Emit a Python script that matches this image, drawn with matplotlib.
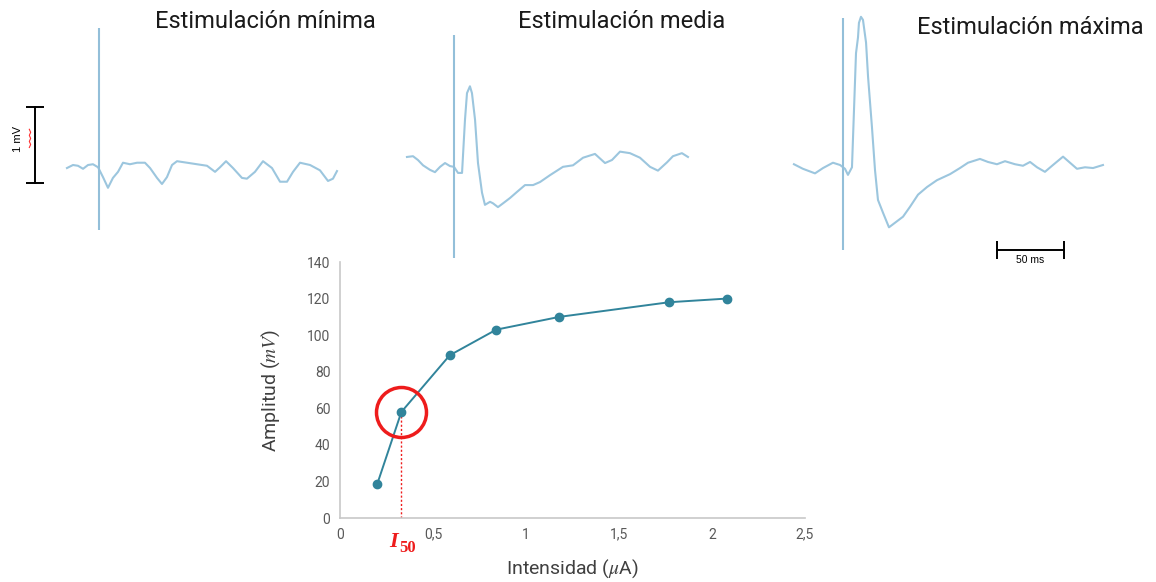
import numpy as np
import matplotlib
matplotlib.use('Agg')
import matplotlib.pyplot as plt

plt.rcParams['font.family'] = ['Roboto', 'DejaVu Sans']

# curva amplitud / intensidad
intensidad = [0.20, 0.33, 0.59, 0.84, 1.18, 1.77, 2.08]
amplitud = [18.5, 58, 89, 103, 110, 118, 120]
i50 = 0.33
a50 = 58
xticks = [0, 0.5, 1, 1.5, 2, 2.5]
xticklabels = ['0', '0,5', '1', '1,5', '2', '2,5']
yticks = [0, 20, 40, 60, 80, 100, 120, 140]

# registros (t en ms desde el estimulo, v en mV)
t_min = [-23.9, -19.4, -15.7, -11.9, -8.2, -4.5, -0.7, 3.0, 6.7, 10.4, 14.2, 17.9, 23.1, 28.4,
         34.3, 38.1, 43.3, 47.0, 50.7, 54.5, 58.2, 65.7, 73.1, 80.6, 86.6, 90.3, 94.8, 100.0,
         106.7, 110.4, 116.4, 122.4, 129.1, 135.1, 140.3, 144.8, 150.0, 157.5, 164.9, 170.9,
         174.6, 177.6]
v_min = [-0.04, 0.0, -0.01, -0.05, 0.0, 0.01, -0.03, -0.16, -0.30, -0.17, -0.09, 0.03, 0.01, 0.03,
         0.03, -0.04, -0.17, -0.25, -0.16, 0.0, 0.05, 0.03, 0.01, -0.01, -0.09, -0.03, 0.05, -0.04,
         -0.17, -0.18, -0.09, 0.05, -0.04, -0.22, -0.22, -0.09, 0.03, 0.0, -0.07, -0.21,
         -0.18, -0.08]

t_med = [-35.1, -30.6, -26.9, -23.1, -17.9, -14.2, -10.4, -6.7, -3.0, 0.0, 3.0, 6.0, 8.2, 9.7,
         11.9, 13.4, 15.7, 17.9, 20.9, 23.1, 26.9, 29.1, 32.8, 36.6, 41.8, 47.0, 53.0, 59.0,
         64.2, 71.6, 81.3, 88.8, 96.3, 105.2, 112.7, 117.9, 123.9, 131.3, 138.8, 146.3, 152.2,
         159.0, 163.4, 170.1, 174.6]
v_med = [0.04, 0.05, 0.0, -0.07, -0.13, -0.16, -0.09, -0.04, -0.08, -0.09, -0.17, -0.17, 0.53, 0.88,
         0.97, 0.88, 0.53, -0.04, -0.43, -0.59, -0.55, -0.57, -0.62, -0.57, -0.50, -0.42, -0.33, -0.33,
         -0.29, -0.20, -0.09, -0.07, 0.03, 0.08, -0.04, 0.0, 0.11, 0.09, 0.03, -0.09, -0.14,
         -0.03, 0.05, 0.09, 0.04]

t_max = [-36.6, -29.9, -20.9, -14.9, -7.5, -2.2, 1.5, 3.7, 6.7, 8.2, 9.7, 11.2, 11.9, 13.4, 14.9,
         17.2, 18.7, 21.6, 23.9, 26.1, 29.9, 34.3, 38.8, 44.8, 50.0, 56.0, 62.7, 70.1, 79.9,
         87.3, 93.3, 102.2, 108.2, 114.9, 120.9, 128.4, 134.3, 139.6, 144.8, 150.7, 156.7,
         164.2, 169.4, 174.6, 180.6, 186.6, 194.0]
v_max = [0.01, -0.05, -0.11, -0.04, 0.03, 0.0, -0.05, -0.13, -0.03, 0.72, 1.47, 1.68, 1.87, 1.95, 1.91,
         1.61, 1.16, 0.50, -0.07, -0.46, -0.63, -0.82, -0.76, -0.68, -0.55, -0.39, -0.29, -0.20, -0.12,
         -0.04, 0.03, 0.08, 0.04, 0.01, 0.05, 0.01, -0.01, 0.04, -0.03, -0.09, 0.0,
         0.11, 0.03, -0.05, -0.03, -0.04, 0.0]

# artefacto de estimulo (mV)
art_min = [-0.86, 1.80]
art_med = [-1.29, 1.64]
art_max = [-1.12, 1.93]

titulos = ['Estimulación mínima', 'Estimulación media', 'Estimulación máxima']

W, H = 1156, 582
PX_MS = 1.34   # px por ms
PX_MV = 76.0   # px por mV
c_traza = '#9cc6de'
c_curva = '#31849b'
rojo = '#ee1c1c'


def trace_axes(fig, stim_px, base_px, x0, x1):
    # ejes en px de la figura, escala comun para los tres registros
    ax = fig.add_axes([x0 / W, 0.0, (x1 - x0) / W, 1.0])
    ax.set_xlim((x0 - stim_px) / PX_MS, (x1 - stim_px) / PX_MS)
    ax.set_ylim((base_px - H) / PX_MV, base_px / PX_MV)
    ax.axis('off')
    ax.patch.set_alpha(0)
    return ax


def main():
    fig = plt.figure(figsize=(W / 100, H / 100), dpi=100)

    # curva principal
    ax = fig.add_axes([340 / W, (H - 518) / H, 465 / W, 256 / H])
    ax.plot(intensidad, amplitud, '-o', color=c_curva, lw=1.4, ms=6, zorder=3)
    ax.plot([i50], [a50], 'o', ms=36, mfc='none', mec=rojo, mew=2.5, zorder=4)
    ax.vlines(i50, 0, a50, colors=rojo, linestyles=(0, (1.5, 1.5)), lw=1.0, zorder=2)
    ax.set_xlim(0, 2.5)
    ax.set_ylim(0, 140)
    ax.set_xticks(xticks)
    ax.set_xticklabels(xticklabels)
    ax.set_yticks(yticks)
    ax.tick_params(length=0, labelsize=10, colors='#595959', pad=7)
    for s in ['top', 'right']:
        ax.spines[s].set_visible(False)
    for s in ['left', 'bottom']:
        ax.spines[s].set_color('#c8c8c8')
        ax.spines[s].set_linewidth(1.2)
    ax.set_ylabel('Amplitud ($mV$)', fontsize=14, color='#404040', labelpad=18,
                  math_fontfamily='stix')
    ax.set_xlabel('Intensidad ($\\mu$A)', fontsize=14, color='#404040', labelpad=11,
                  math_fontfamily='stix')
    # etiqueta I50
    ax.annotate('I', xy=(i50, 0), xytext=(-6, -10), textcoords='offset points',
                color=rojo, fontsize=16, fontstyle='italic', fontweight='bold',
                family=['Liberation Serif', 'DejaVu Serif'], ha='center', va='top')
    ax.annotate('50', xy=(i50, 0), xytext=(4.5, -16), textcoords='offset points',
                color=rojo, fontsize=12, fontweight='bold',
                family=['Liberation Serif', 'DejaVu Serif'], ha='center', va='top')

    # registros
    a1 = trace_axes(fig, 99, 165, 0, 370)
    a2 = trace_axes(fig, 454, 160, 380, 740)
    a3 = trace_axes(fig, 843, 165, 760, 1156)
    for a, t, v, art in [(a1, t_min, v_min, art_min), (a2, t_med, v_med, art_med),
                         (a3, t_max, v_max, art_max)]:
        a.plot(t, v, color=c_traza, lw=1.5, solid_joinstyle='round')
        a.vlines(0, art[0], art[1], colors='#93bfd9', lw=1.5)

    # barra 1 mV
    a1.plot([-47.8, -47.8], [-0.24, 0.76], color='k', lw=1.4)
    a1.plot([-47.8, -47.8], [-0.24, 0.76], '_', color='k', ms=13, mew=1.4)
    a1.text(-60.5, 0.34, '1 mV', rotation=90, fontsize=8, ha='center', va='center',
            family=['Liberation Sans', 'DejaVu Sans'])
    a1.plot([-52, -51, -52, -51, -52, -51, -52], [0.23, 0.27, 0.31, 0.35, 0.39, 0.43, 0.47],
            color='#ff3030', lw=0.8)

    # barra 50 ms
    a3.plot([114.9, 164.9], [-1.12, -1.12], color='k', lw=1.4)
    a3.plot([114.9, 164.9], [-1.12, -1.12], '|', color='k', ms=13, mew=1.4)
    a3.text(139.9, -1.19, '50 ms', fontsize=7.5, ha='center', va='top',
            family=['Liberation Sans', 'DejaVu Sans'])

    # titulos
    fig.text(265 / W, 1 - 22 / H, titulos[0], fontsize=17, ha='center', va='center', color='#1a1a1a')
    fig.text(622 / W, 1 - 22 / H, titulos[1], fontsize=17, ha='center', va='center', color='#1a1a1a')
    fig.text(1030 / W, 1 - 27 / H, titulos[2], fontsize=17, ha='center', va='center', color='#1a1a1a')

    fig.savefig('out.png', dpi=100)

main()
